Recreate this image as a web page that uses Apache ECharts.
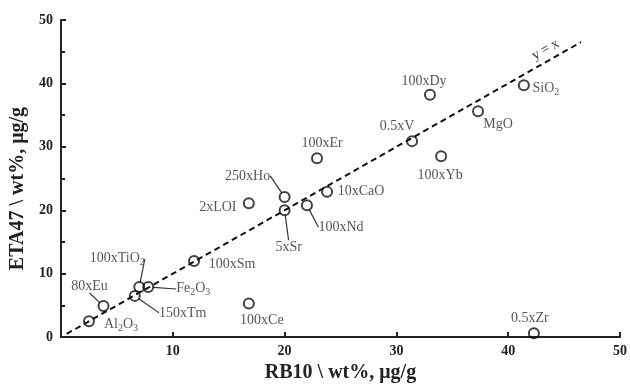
<!DOCTYPE html>
<html>
<head>
<meta charset="utf-8">
<script src="https://cdn.jsdelivr.net/npm/echarts@6/dist/echarts.min.js"></script>
<style>
  html, body { margin: 0; padding: 0; background: #fff; }
  #chart { width: 630px; height: 388px; }
</style>
</head>
<body>
<div id="chart"></div>
<script>
// data
const names = ["Al2O3", "80xEu", "150xTm", "100xTiO2", "Fe2O3", "100xSm", "100xCe", "2xLOI", "5xSr",
  "250xHo", "100xNd", "10xCaO", "100xEr", "0.5xV", "100xYb", "100xDy", "MgO", "SiO2", "0.5xZr"];
const rb10 = [2.5, 3.8, 6.6, 7.0, 7.8, 11.9, 16.8, 16.8, 20.0, 20.0, 22.0, 23.8, 22.9, 31.4, 34.0, 33.0, 37.3, 41.4, 42.3];
const eta47 = [2.5, 4.9, 6.5, 7.9, 7.9, 12.0, 5.3, 21.1, 20.0, 22.1, 20.8, 22.9, 28.2, 30.9, 28.5, 38.2, 35.6, 39.7, 0.6];
const lineXY = [0.5, 46.5];
const axisTicks = [0, 10, 20, 30, 40, 50];

// label text with subscripts
const labelText = {
  "Al2O3": "Al{s|2}O{s|3}",
  "100xTiO2": "100xTiO{s|2}",
  "Fe2O3": "Fe{s|2}O{s|3}",
  "SiO2": "SiO{s|2}"
};
// label offsets (px, from the circle centre) and whether a leader line is drawn
const labelShift = {
  "Al2O3": [32, 3, false],
  "80xEu": [-14, -20, true],
  "150xTm": [48, 17, true],
  "100xTiO2": [-22, -29, true],
  "Fe2O3": [45, 1, true],
  "100xSm": [38, 3, false],
  "100xCe": [13, 17, false],
  "2xLOI": [-31, 4, false],
  "5xSr": [4, 37, true],
  "250xHo": [-37, -21, true],
  "100xNd": [34, 22, true],
  "10xCaO": [34, -1, false],
  "100xEr": [5, -15, false],
  "0.5xV": [-15, -15, false],
  "100xYb": [-1, 19, false],
  "100xDy": [-6, -14, false],
  "MgO": [20, 13, false],
  "SiO2": [22, 3, false],
  "0.5xZr": [-4, -15, false]
};

const serif = "'Liberation Serif', 'DejaVu Serif', serif";
const points = names.map((n, i) => ({
  name: n,
  value: [rb10[i], eta47[i]],
  labelLine: { show: labelShift[n][2] }
}));

const chart = echarts.init(document.getElementById("chart"));
chart.setOption({
  animation: false,
  grid: { left: 61, right: 7, top: 20, bottom: 46 },
  xAxis: {
    type: "value", min: 0, max: 50, interval: 10,
    name: "RB10 \\ wt%, μg/g",
    nameLocation: "middle", nameGap: 25,
    nameTextStyle: { fontFamily: serif, fontWeight: "bold", fontSize: 20, color: "#222" },
    axisLine: { lineStyle: { color: "#222", width: 2 } },
    axisTick: { inside: true, length: 5, lineStyle: { color: "#222", width: 2 } },
    axisLabel: {
      margin: 7, fontFamily: serif, fontWeight: "bold", fontSize: 14, color: "#222",
      formatter: v => (v === axisTicks[0] ? "" : v)
    },
    splitLine: { show: false }
  },
  yAxis: {
    type: "value", min: 0, max: 50, interval: 10,
    name: "ETA47 \\ wt%, μg/g",
    nameLocation: "middle", nameGap: 28,
    nameTextStyle: { fontFamily: serif, fontWeight: "bold", fontSize: 20, color: "#222", padding: [0, 0, 0, -20] },
    axisLine: { lineStyle: { color: "#222", width: 2 } },
    axisTick: { inside: true, length: 5, lineStyle: { color: "#222", width: 2 } },
    minorTick: { show: true, splitNumber: 2, length: 4, lineStyle: { color: "#222", width: 2 } },
    axisLabel: { margin: 8, fontFamily: serif, fontWeight: "bold", fontSize: 14, color: "#222" },
    splitLine: { show: false }
  },
  series: [
    {
      type: "scatter",
      data: points,
      symbol: "circle",
      symbolSize: 10,
      itemStyle: { color: "rgba(0,0,0,0)", borderColor: "#111", borderWidth: 2 },
      label: {
        show: true,
        position: "inside",
        fontFamily: serif,
        fontSize: 14,
        color: "#2a2a2a",
        formatter: p => labelText[p.name] || p.name,
        rich: {
          s: { fontFamily: serif, fontSize: 10, color: "#2a2a2a", verticalAlign: "bottom", padding: [8, 0, 0, 0] }
        }
      },
      labelLine: { show: false, lineStyle: { color: "#333", width: 1.2 } },
      labelLayout: p => {
        const s = labelShift[names[p.dataIndex]];
        return { dx: s[0], dy: s[1] };
      },
      markLine: {
        silent: true,
        symbol: "none",
        lineStyle: { color: "#111", type: [6, 4], width: 2 },
        label: {
          show: true, position: "insideEndTop", formatter: "y = x",
          fontFamily: serif, fontSize: 14, color: "#333", distance: [20, 4]
        },
        data: [[{ coord: [lineXY[0], lineXY[0]] }, { coord: [lineXY[1], lineXY[1]] }]]
      },
      z: 3
    }
  ]
});
</script>
</body>
</html>
